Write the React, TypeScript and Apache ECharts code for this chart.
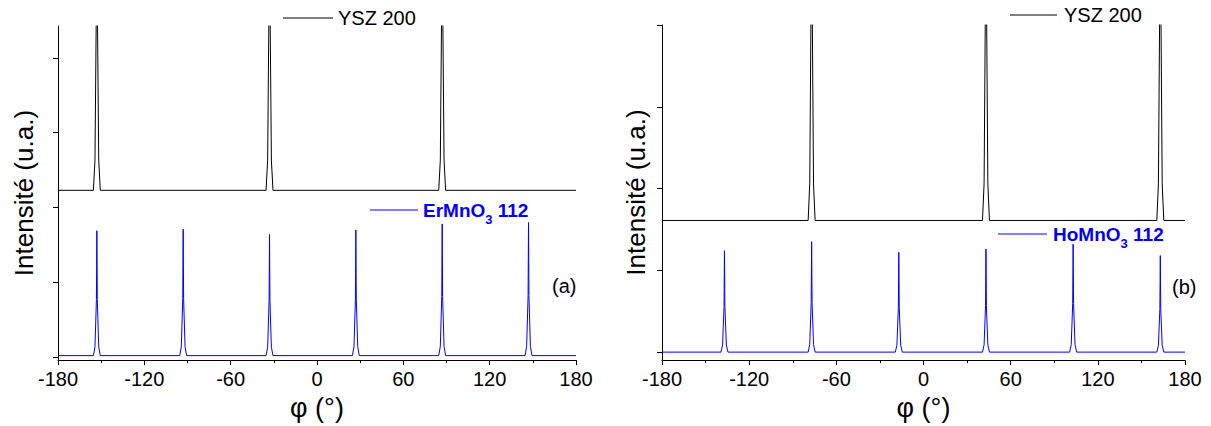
import React, { useEffect, useRef } from "react";
import * as echarts from "echarts";

// ---- Data (x in degrees, y in axis-tick units) ----
const X_MIN = -180;
const X_MAX = 180;
const Y_TICKS = [0, 1, 2, 3, 4];

// Panel (a)
const A_YSZ_PEAKS = [-153, -33, 87];
const A_YSZ_TOPS = [8, 8, 8]; // off-scale, clipped at the frame top
const A_YSZ_BASE = 2.23;
const A_ER_PEAKS = [-153, -93, -33, 27, 87, 147];
const A_ER_TOPS = [1.69, 1.71, 1.64, 1.7, 1.78, 1.8];
const A_ER_BASE = 0.02;

// Panel (b)
const B_YSZ_PEAKS = [-77, 43, 163];
const B_YSZ_TOPS = [8, 8, 8];
const B_YSZ_BASE = 1.61;
const B_HO_PEAKS = [-137, -77, -17, 43, 103, 163];
const B_HO_TOPS = [1.24, 1.35, 1.22, 1.26, 1.32, 1.18];
const B_HO_BASE = 0.0;

// Peak profile observed (offset in degrees, fraction of peak height)
const PROFILE_OFFSETS = [-2.4, -1.3, -0.3, 0, 0.3, 1.3, 2.4];
const PROFILE_FRACTIONS = [0, 0.07, 0.45, 1, 0.45, 0.07, 0];

function trace(peaks: number[], tops: number[], base: number): number[][] {
  const pts: number[][] = [[X_MIN, base]];
  peaks.forEach((p, i) => {
    PROFILE_OFFSETS.forEach((o, j) => {
      pts.push([p + o, base + (tops[i] - base) * PROFILE_FRACTIONS[j]]);
    });
  });
  pts.push([X_MAX, base]);
  return pts;
}

const FONT = "'Liberation Sans', Arial, sans-serif";
const BLUE = "#0000ff";

function xAxisCfg(gridIndex: number) {
  return {
    type: "value",
    gridIndex,
    min: X_MIN,
    max: X_MAX,
    interval: 60,
    name: "φ (°)",
    nameLocation: "middle",
    nameGap: 30,
    nameTextStyle: { fontSize: 27, color: "#000", fontFamily: FONT },
    axisLine: { onZero: false, lineStyle: { color: "#000", width: 1 } },
    axisTick: { show: true, inside: false, length: 5, lineStyle: { color: "#000" } },
    minorTick: { show: true, splitNumber: 2, length: 3, lineStyle: { color: "#000" } },
    axisLabel: { fontSize: 20, color: "#000", fontFamily: FONT, margin: 9 },
    splitLine: { show: false },
    minorSplitLine: { show: false },
  };
}

function yAxisCfg(gridIndex: number, min: number, max: number, gap: number) {
  return {
    type: "value",
    gridIndex,
    min,
    max,
    name: "Intensité (u.a.)",
    nameLocation: "middle",
    nameGap: gap,
    nameTextStyle: { fontSize: 26, color: "#000", fontFamily: FONT },
    axisLine: { show: true, onZero: false, lineStyle: { color: "#000", width: 1 } },
    axisTick: { show: true, inside: false, length: 5, customValues: Y_TICKS, lineStyle: { color: "#000" } },
    axisLabel: { show: false },
    splitLine: { show: false },
  };
}

function legendLine(x1: number, x2: number, y: number, color: string) {
  return { type: "line", shape: { x1, y1: y, x2, y2: y }, style: { stroke: color, lineWidth: 1 } };
}

function plainText(x: number, y: number, text: string, size: number) {
  return {
    type: "text",
    x,
    y,
    style: {
      text,
      fill: "#000",
      fontSize: size,
      fontFamily: FONT,
      textVerticalAlign: "middle",
      verticalAlign: "middle",
    },
  };
}

function subText(x: number, y: number, head: string, sub: string, tail: string) {
  return {
    type: "text",
    x,
    y,
    style: {
      text: `{m|${head}}{s|${sub}}{m|${tail}}`,
      fill: BLUE,
      fontFamily: FONT,
      fontWeight: "bold",
      fontSize: 19,
      textVerticalAlign: "middle",
      verticalAlign: "middle",
      rich: {
        m: { fontSize: 19, fontWeight: "bold", fill: BLUE, color: BLUE, fontFamily: FONT },
        s: { fontSize: 13, fontWeight: "bold", fill: BLUE, color: BLUE, fontFamily: FONT, padding: [18, 0, 0, 0] },
      },
    },
  };
}

export default function App() {
  const ref = useRef<HTMLDivElement>(null);
  useEffect(() => {
    if (!ref.current) return;
    const chart = echarts.init(ref.current, undefined, { renderer: "svg" });
    const lineSeries = (name: string, xi: number, data: number[][], color: string) => ({
      type: "line",
      name,
      xAxisIndex: xi,
      yAxisIndex: xi,
      data,
      symbol: "none",
      clip: true,
      lineStyle: { color, width: 1 },
      itemStyle: { color },
    });
    chart.setOption({
      animation: false,
      backgroundColor: "#fff",
      grid: [
        { left: 58, top: 26, width: 518, height: 335 },
        { left: 662, top: 25, width: 523, height: 336 },
      ],
      xAxis: [xAxisCfg(0), xAxisCfg(1)],
      yAxis: [yAxisCfg(0, -0.04, 4.427, 21), yAxisCfg(1, -0.0976, 4.0, 13)],
      series: [
        lineSeries("YSZ 200", 0, trace(A_YSZ_PEAKS, A_YSZ_TOPS, A_YSZ_BASE), "#000"),
        lineSeries("ErMnO3 112", 0, trace(A_ER_PEAKS, A_ER_TOPS, A_ER_BASE), BLUE),
        lineSeries("YSZ 200 (b)", 1, trace(B_YSZ_PEAKS, B_YSZ_TOPS, B_YSZ_BASE), "#000"),
        lineSeries("HoMnO3 112", 1, trace(B_HO_PEAKS, B_HO_TOPS, B_HO_BASE), BLUE),
      ],
      graphic: [
        legendLine(283, 333, 18, "#000"),
        plainText(338, 18, "YSZ 200", 20),
        legendLine(370, 418, 210, BLUE),
        subText(423, 210, "ErMnO", "3", " 112"),
        plainText(552, 286, "(a)", 20),
        legendLine(1010, 1057, 15, "#000"),
        plainText(1064, 15, "YSZ 200", 20),
        legendLine(998, 1047, 234, BLUE),
        subText(1053, 234, "HoMnO", "3", " 112"),
        plainText(1172, 287, "(b)", 20),
      ],
    });
    return () => chart.dispose();
  }, []);
  return (
    <div
      ref={ref}
      style={{ position: "fixed", left: 0, top: 0, width: 1211, height: 426, background: "#fff" }}
    />
  );
}
